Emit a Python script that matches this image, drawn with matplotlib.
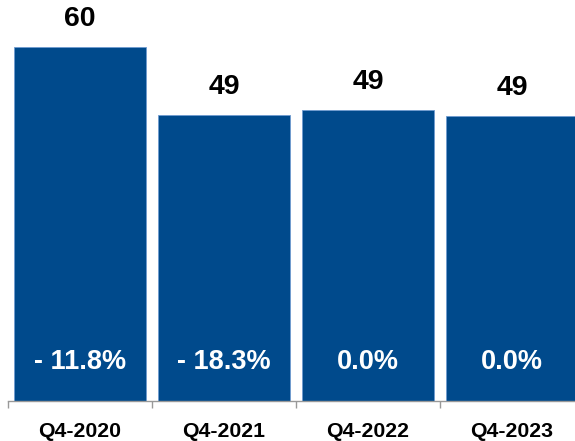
import matplotlib.pyplot as plt

# Data
quarters = ["Q4-2020", "Q4-2021", "Q4-2022", "Q4-2023"]
values = [60.0, 48.5, 49.3, 48.3]
value_labels = ["60", "49", "49", "49"]
change_labels = ["- 11.8%", "- 18.3%", "0.0%", "0.0%"]

plt.rcParams['font.family'] = ['Liberation Sans', 'DejaVu Sans']

fig = plt.figure(figsize=(5.75, 4.41), dpi=100)
ax = fig.add_axes([8 / 575, 40 / 441, 576 / 575, 401 / 441])

x = list(range(len(quarters)))
ax.bar(x, values, width=0.91, color='#004a8c', edgecolor='#6f9bd0', linewidth=0.6)

for xi, v, lab, chg in zip(x, values, value_labels, change_labels):
    # value above the bar
    ax.annotate(lab, (xi, v), xytext=(0, 20), textcoords='offset points',
                ha='center', va='center', fontsize=20.5, fontweight='bold', color='black')
    # change vs previous year near the bottom of the bar
    ax.annotate(chg, (xi, 0), xytext=(0, 28), textcoords='offset points',
                ha='center', va='center', fontsize=19.5, fontweight='bold', color='white')

ax.set_xlim(-0.5, 3.5)
ax.set_ylim(0, 68)

for side in ['top', 'right', 'left']:
    ax.spines[side].set_visible(False)
ax.spines['bottom'].set_color('#999999')
ax.spines['bottom'].set_linewidth(1.0)

ax.set_yticks([])
ax.set_xticks([-0.5, 0.5, 1.5, 2.5, 3.5])
ax.set_xticklabels([])
ax.tick_params(axis='x', which='major', length=5, color='#999999', width=1.0)
ax.set_xticks(x, minor=True)
ax.set_xticklabels(quarters, minor=True, fontsize=15.3, fontweight='bold')
ax.tick_params(axis='x', which='minor', length=0, pad=15)

fig.savefig('out.png', dpi=100)
